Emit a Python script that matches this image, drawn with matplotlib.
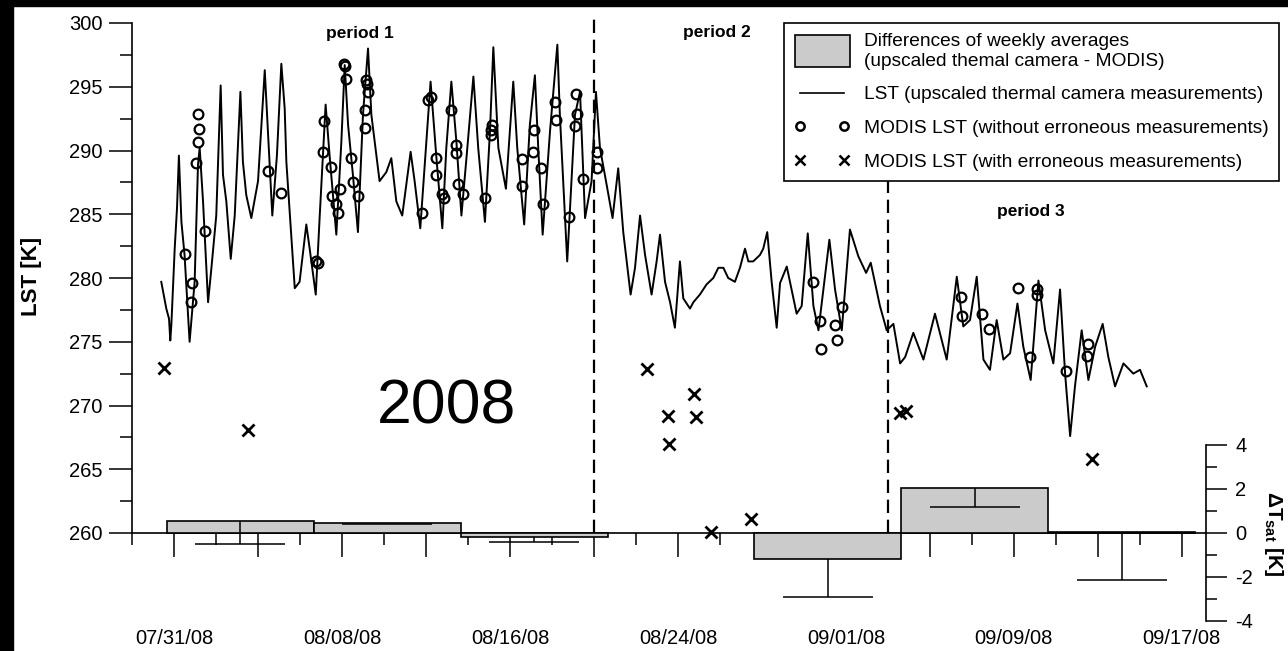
import numpy as np
import pandas as pd
import matplotlib
matplotlib.use("Agg")
import matplotlib.pyplot as plt
import matplotlib.dates as mdates
from matplotlib.patches import Rectangle, Patch
from matplotlib.lines import Line2D
from matplotlib.legend_handler import HandlerPatch
from matplotlib.ticker import FixedLocator, FixedFormatter

plt.rcParams["font.family"] = ["Liberation Sans", "DejaVu Sans"]
plt.rcParams["axes.unicode_minus"] = False
plt.rcParams["mathtext.fontset"] = "custom"
plt.rcParams["mathtext.rm"] = "Liberation Sans:bold"
plt.rcParams["mathtext.it"] = "Liberation Sans:bold"
plt.rcParams["mathtext.bf"] = "Liberation Sans:bold"

# ---- data (x = day of year 2008, decimal) ----
# LST from the upscaled thermal camera [K]
lst_doy = [
    212.38, 212.62, 212.75, 212.81, 212.86, 213.02, 213.13, 213.22, 213.34, 213.49,
    213.73, 213.97, 214.13, 214.21, 214.37, 214.61, 214.77, 215.00, 215.21, 215.32,
    215.48, 215.69, 215.88, 216.15, 216.27, 216.43, 216.67, 216.99, 217.31, 217.46,
    217.67, 217.89, 218.10, 218.26, 218.34, 218.74, 218.97, 219.29, 219.45, 219.74,
    219.93, 220.21, 220.40, 220.72, 220.96, 221.12, 221.28, 221.51, 221.75, 221.99,
    222.23, 222.39, 222.78, 223.10, 223.34, 223.58, 223.86, 224.26, 224.45, 224.72,
    225.01, 225.21, 225.48, 225.77, 225.96, 226.20, 226.44, 226.68, 226.93, 227.25,
    227.48, 227.80, 228.04, 228.20, 228.44, 228.80, 229.15, 229.34, 229.67, 229.94,
    230.18, 230.34, 230.55, 230.90, 231.25, 231.37, 231.72, 232.09, 232.33, 232.57,
    232.88, 233.09, 233.28, 233.60, 233.88, 234.15, 234.39, 234.74, 234.95, 235.19,
    235.43, 235.74, 235.98, 236.14, 236.38, 236.62, 236.85, 237.09, 237.25, 237.57,
    237.73, 238.04, 238.36, 238.68, 238.92, 239.16, 239.39, 239.71, 239.95, 240.19,
    240.35, 240.58, 240.90, 241.06, 241.25, 241.46, 241.70, 241.86, 242.18, 242.65,
    242.89, 243.18, 243.45, 243.69, 244.21, 244.48, 244.80, 245.19, 245.59, 245.96,
    246.18, 246.62, 246.94, 247.26, 247.58, 247.82, 248.21, 248.69, 249.24, 249.80,
    250.28, 250.59, 250.91, 251.23, 251.55, 251.86, 252.18, 252.50, 252.82, 253.17,
    253.45, 253.80, 254.17, 254.49, 254.88, 255.20, 255.44, 255.68, 255.91, 256.23,
    256.55, 256.87, 257.23, 257.50, 257.82, 258.22, 258.69, 259.01, 259.33,
]
lst_k = [
    279.7, 277.6, 276.8, 275.1, 276.3, 282.3, 285.5, 289.6, 284.4, 281.8,
    275.0, 279.7, 288.9, 290.2, 286.0, 278.1, 280.8, 284.9, 295.1, 288.1,
    286.0, 281.5, 284.9, 294.6, 289.1, 286.5, 284.7, 287.6, 296.3, 291.5,
    284.9, 289.6, 296.8, 293.3, 289.1, 279.2, 279.7, 284.2, 282.3, 278.7,
    284.9, 293.6, 289.6, 283.4, 290.7, 296.7, 292.0, 288.1, 283.6, 292.8,
    298.0, 292.8, 287.6, 288.3, 289.4, 286.0, 284.9, 289.9, 287.6, 283.9,
    290.7, 295.4, 289.6, 283.9, 290.2, 295.4, 290.7, 284.9, 289.6, 295.8,
    290.2, 284.4, 291.5, 298.1, 290.2, 287.0, 295.4, 290.2, 284.2, 292.0,
    295.9, 290.2, 283.4, 291.5, 298.3, 292.8, 281.3, 292.8, 294.6, 284.7,
    287.6, 294.6, 290.2, 287.3, 284.7, 288.6, 283.6, 278.7, 280.8, 284.9,
    281.8, 278.7, 281.3, 283.4, 279.7, 278.1, 276.1, 281.3, 278.4, 277.6,
    278.1, 278.7, 279.5, 280.0, 280.8, 280.8, 280.0, 279.7, 280.8, 282.3,
    281.3, 281.3, 281.8, 282.3, 283.6, 279.7, 276.1, 279.6, 280.9, 277.2,
    277.8, 283.5, 277.8, 275.9, 283.0, 279.1, 275.9, 283.8, 281.7, 280.4,
    281.2, 277.8, 275.9, 276.4, 273.3, 273.8, 275.7, 273.6, 277.2, 273.6,
    280.1, 276.2, 276.7, 280.1, 273.6, 272.8, 276.7, 273.6, 274.1, 278.0,
    274.6, 272.0, 279.8, 275.9, 273.3, 279.1, 272.5, 267.6, 271.5, 275.9,
    272.0, 274.6, 276.4, 273.8, 271.5, 273.3, 272.5, 272.8, 271.5,
]

# MODIS LST without erroneous measurements [K]
modis_doy = [
    214.13, 214.18, 214.13, 214.05, 214.45, 213.49, 213.86, 213.78, 217.46, 218.10,
    219.77, 219.85, 220.13, 220.08, 220.48, 220.53, 220.88, 220.72, 220.80, 221.07,
    221.12, 221.20, 221.43, 221.51, 221.75, 222.15, 222.17, 222.23, 222.10, 222.10,
    224.82, 225.09, 225.21, 225.45, 225.48, 225.77, 225.83, 226.20, 226.41, 226.44,
    226.52, 226.74, 227.80, 228.12, 228.09, 228.07, 229.55, 229.55, 230.14, 230.10,
    230.47, 230.55, 231.14, 231.17, 231.80, 232.14, 232.17, 232.09, 232.45, 233.12,
    233.12, 243.45, 243.77, 243.81, 244.48, 244.56, 244.80, 250.47, 250.51, 251.50,
    251.83, 253.18, 254.09, 254.12, 253.77, 255.47, 256.55, 256.50,
]
modis_k = [
    292.9, 291.7, 290.7, 289.0, 283.7, 281.9, 279.6, 278.1, 288.4, 286.7,
    281.3, 281.2, 292.3, 289.9, 288.7, 286.4, 287.0, 285.8, 285.1, 296.8,
    296.6, 295.6, 289.4, 287.5, 286.4, 295.5, 295.2, 294.6, 293.2, 291.8,
    285.1, 294.0, 294.2, 289.4, 288.1, 286.6, 286.3, 293.2, 290.4, 289.8,
    287.4, 286.6, 286.3, 292.0, 291.6, 291.2, 289.3, 287.2, 291.6, 289.9,
    288.6, 285.8, 293.8, 292.4, 284.8, 294.4, 292.9, 291.9, 287.8, 289.9,
    288.6, 279.7, 276.6, 274.4, 276.3, 275.1, 277.7, 278.5, 277.0, 277.2,
    276.0, 279.2, 279.1, 278.7, 273.8, 272.7, 274.8, 273.9,
]

# MODIS LST with erroneous measurements [K]
modis_bad_doy = [212.51, 216.50, 235.51, 236.54, 236.57, 237.77, 237.84,
                 238.56, 240.48, 247.58, 247.86, 256.74]
modis_bad_k = [272.95, 268.07, 272.84, 269.18, 266.98, 270.90, 269.07,
               260.10, 261.07, 269.40, 269.60, 265.80]

# weekly differences (upscaled thermal camera - MODIS) [K]
week_start_doy = [212.64, 219.64, 226.64, 240.64, 247.64, 254.64]
week_diff = [0.56, 0.44, -0.17, -1.20, 2.03, 0.06]
week_err = [1.06, 0.04, 0.25, 1.70, 0.86, 2.20]   # drawn downwards only

period_bounds_doy = [233.0, 247.0]

# ---- layout (pixels of the 1288x651 output) ----
W, H = 1288, 651
AX_L, AX_R, AX_T, AX_B = 132.3, 1206.0, 23.0, 622.0
BASE = 533.0                  # y pixel of 260 K / 0 K
PX_LEFT, PX_RIGHT = 12.75, 22.0   # pixels per K on the two y axes
PX_DAY = 20.99
BAR_GREY = "#cbcbcb"


def doy_to_date(doy):
    return pd.Timestamp("2008-01-01") + pd.to_timedelta(np.asarray(doy, dtype=float) - 1, unit="D")


def tall_rect(legend, orig_handle, xdescent, ydescent, width, height, fontsize):
    # the grey box in the legend is about two text lines high
    return Rectangle((-xdescent, -ydescent + height / 2 - 11.5), width, 23)


fig = plt.figure(figsize=(W / 100, H / 100), dpi=100)
fig.patches.append(Rectangle((0, 0), 13 / W, 1, transform=fig.transFigure,
                             color="black", zorder=-5))
fig.patches.append(Rectangle((0, 1 - 6 / H), 1, 6 / H, transform=fig.transFigure,
                             color="black", zorder=-5))

ax = fig.add_axes([AX_L / W, 1 - AX_B / H, (AX_R - AX_L) / W, (AX_B - AX_T) / H])
ax2 = ax.twinx()

# LST curve and MODIS points
ax.plot(doy_to_date(lst_doy), lst_k, color="black", lw=1.4)
ax.plot(doy_to_date(modis_doy), modis_k, ls="none", marker="o", ms=7,
        mfc="none", mec="black", mew=1.6)
ax.plot(doy_to_date(modis_bad_doy), modis_bad_k, ls="none", marker="x", ms=8.5,
        mew=2.0, color="black", clip_on=False)

# period separators
ax.vlines(doy_to_date(period_bounds_doy[:1]), 260, 300.6, colors="black",
          linestyles=(0, (6, 3)), lw=1.6, clip_on=False)
ax.vlines(doy_to_date(period_bounds_doy[1:]), 260, 287.6, colors="black",
          linestyles=(0, (6, 3)), lw=1.6)

# weekly difference bars on the right axis
ax2.bar(doy_to_date(week_start_doy), week_diff, width=7, align="edge",
        color=BAR_GREY, edgecolor="black", lw=1.2)
centers = np.array(week_start_doy) + 3.5
lows = np.array(week_diff) - np.array(week_err)
ax2.vlines(doy_to_date(centers), week_diff, lows, colors="black", lw=1.1)
ax2.hlines(lows, doy_to_date(centers - 2.15), doy_to_date(centers + 2.15),
           colors="black", lw=1.1)

# axes limits so that 260 K (left) and 0 K (right) share one baseline
ax.set_xlim(doy_to_date([211.0, 211.0 + (AX_R - AX_L) / PX_DAY]))
ax.set_ylim(260 - (AX_B - BASE) / PX_LEFT, 260 + (BASE - AX_T) / PX_LEFT)
ax2.set_ylim(-(AX_B - BASE) / PX_RIGHT, (BASE - AX_T) / PX_RIGHT)

# x axis drawn at 260 K
major_dates = pd.date_range("2008-07-31", "2008-09-17", freq="4D")
minor_dates = pd.date_range("2008-07-29", "2008-09-16", freq="4D")
ax.xaxis.set_major_locator(FixedLocator(mdates.date2num(major_dates)))
ax.xaxis.set_major_formatter(FixedFormatter(
    [d.strftime("%m/%d/%y") if i % 2 == 0 else "" for i, d in enumerate(major_dates)]))
ax.xaxis.set_minor_locator(FixedLocator(mdates.date2num(minor_dates)))
ax.spines["bottom"].set_position(("data", 260))
ax.spines["left"].set_bounds(260, 300)
ax.spines["top"].set_visible(False)
ax.spines["right"].set_visible(False)
for s in ("left", "bottom"):
    ax.spines[s].set_linewidth(1.2)

ax.yaxis.set_major_locator(FixedLocator(np.arange(260, 301, 5)))
ax.yaxis.set_minor_locator(FixedLocator(np.arange(262.5, 300, 5)))
ax.tick_params(axis="x", which="major", direction="out", length=17, width=1.1,
               pad=52, labelsize=14.5)
ax.tick_params(axis="x", which="minor", direction="out", length=8.6, width=1.1)
ax.tick_params(axis="y", which="major", length=16.5, width=1.1, pad=5, labelsize=14.5)
ax.tick_params(axis="y", which="minor", length=9, width=1.1)

for s in ("top", "left", "bottom"):
    ax2.spines[s].set_visible(False)
ax2.spines["right"].set_bounds(-4, 4)
ax2.spines["right"].set_linewidth(1.2)
ax2.yaxis.set_major_locator(FixedLocator([-4, -2, 0, 2, 4]))
ax2.yaxis.set_minor_locator(FixedLocator([-3, -1, 1, 3]))
ax2.tick_params(axis="y", which="major", length=15, width=1.1, pad=6, labelsize=14.5)
ax2.tick_params(axis="y", which="minor", length=8, width=1.1)

# labels and annotations
fig.text(32 / W, 1 - 276 / H, "LST [K]", rotation=90, ha="center", va="center",
         fontsize=16, fontweight="bold")
fig.text(1274 / W, 1 - 534 / H, r"$\Delta T_{sat}$ [K]", rotation=270, ha="center",
         va="center", fontsize=15, fontweight="bold")
fig.text(360 / W, 1 - 38 / H, "period 1", ha="center", va="baseline",
         fontsize=12.5, fontweight="bold")
fig.text(717 / W, 1 - 37.5 / H, "period 2", ha="center", va="baseline",
         fontsize=12.5, fontweight="bold")
fig.text(1031 / W, 1 - 216 / H, "period 3", ha="center", va="baseline",
         fontsize=12.5, fontweight="bold")
fig.text(446.5 / W, 1 - 423 / H, "2008", ha="center", va="baseline", fontsize=45)

# legend
handles = [
    Patch(facecolor=BAR_GREY, edgecolor="black", lw=1.2),
    Line2D([], [], color="black", lw=1.2),
    Line2D([], [], ls="none", marker="o", ms=6, mfc="none", mec="black", mew=1.8),
    Line2D([], [], ls="none", marker="x", ms=7, mew=1.8, color="black"),
]
labels = [
    "Differences of weekly averages\n(upscaled themal camera - MODIS)",
    "LST (upscaled thermal camera measurements)",
    "MODIS LST (without erroneous measurements)",
    "MODIS LST (with erroneous measurements)",
]
leg = fig.legend(handles, labels, loc="upper left",
                 bbox_to_anchor=(784 / W, 1 - 22.5 / H), bbox_transform=fig.transFigure,
                 fontsize=13.8, handlelength=2.87, handletextpad=0.73, borderpad=0.55,
                 labelspacing=0.85, numpoints=2, fancybox=False, framealpha=1,
                 edgecolor="black", borderaxespad=0,
                 handler_map={Patch: HandlerPatch(patch_func=tall_rect)})
leg.get_frame().set_linewidth(1.2)

fig.savefig("out.png", dpi=100)
